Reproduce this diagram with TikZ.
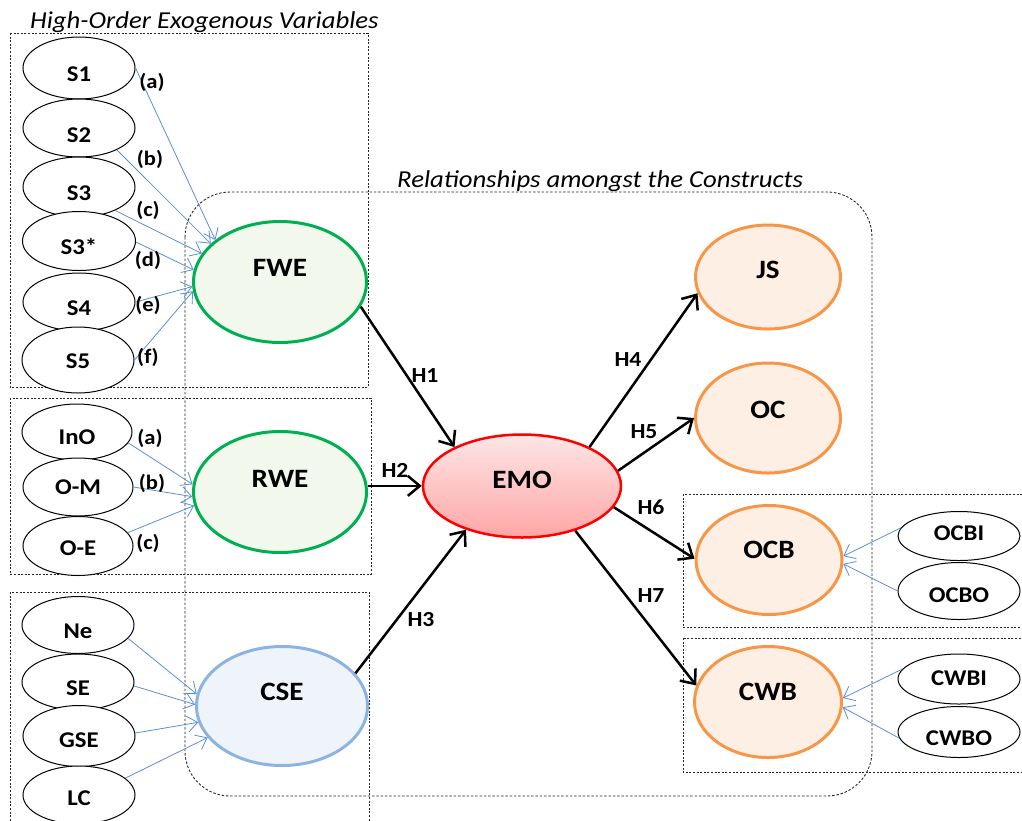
\documentclass[tikz,border=0pt]{standalone}
\usepackage{fontspec}
\setmainfont{Carlito}[FakeStretch=1.1]
\usetikzlibrary{shapes.geometric,arrows.meta}
\definecolor{grn}{HTML}{00B050}
\definecolor{grnfill}{HTML}{F2F8EC}
\definecolor{csel}{HTML}{8DB3E2}
\definecolor{csefill}{HTML}{EFF4FB}
\definecolor{org}{HTML}{F79646}
\definecolor{orgfill}{HTML}{FDEFE4}
\definecolor{emored}{HTML}{FF0000}
\definecolor{emotop}{HTML}{FDE6E6}
\definecolor{emobot}{HTML}{FFA6A6}
\definecolor{thinblue}{HTML}{5B8FD4}
% raise a label inside its ellipse without changing the node's box
\newcommand{\lift}[2]{\raisebox{#1pt}[\height][\depth]{#2}}

\begin{document}
\begin{tikzpicture}[x=1pt,y=-1pt,
  sz/.style 2 args={minimum width=#1pt, minimum height=#2pt},
  ind/.style={ellipse, draw=black, line width=1pt, fill=white, inner sep=0pt,
    font=\fontsize{22.5}{26}\selectfont\bfseries},
  big/.style={ellipse, line width=3pt, inner sep=0pt,
    font=\fontsize{26.5}{31}\selectfont\bfseries},
  wgreen/.style={big, draw=grn, fill=grnfill},
  wblue/.style={big, draw=csel, fill=csefill},
  worange/.style={big, draw=org, fill=orgfill},
  emostyle/.style={big, draw=emored, line width=2.5pt, top color=emotop, bottom color=emobot},
  tag/.style={font=\fontsize{20.5}{24}\selectfont\bfseries, inner sep=0pt},
  hyp/.style={font=\fontsize{21.5}{25}\selectfont\bfseries, inner sep=0pt},
  title/.style={font=\fontsize{24.3}{28}\selectfont\itshape, inner sep=0pt},
  dbox/.style={draw=black!85, line width=0.9pt, dash pattern=on 2pt off 1.6pt},
  rbox/.style={draw=black!85, line width=0.9pt, dash pattern=on 2.5pt off 1.8pt, rounded corners=45pt},
  ba/.style={draw=thinblue, line width=0.8pt, -{Straight Barb[length=10pt,width=16pt,line width=0.8pt]}},
  ha/.style={draw=black, line width=2.5pt, -{Straight Barb[length=12pt,width=20pt]}}
]
\path[use as bounding box, clip] (0,0) rectangle (1022,820);

% group frames
\draw[dbox] (10,33) rectangle (368,387);
\draw[dbox] (10,398) rectangle (371,574);
\draw[dbox] (10,592) rectangle (369,840);
\draw[dbox] (683,494) rectangle (1040,627);
\draw[dbox] (683,638) rectangle (1040,772);
\draw[rbox] (185,192) rectangle (872,796);

% titles
\node[title, anchor=base west] (t1) at (30,28) {High-Order Exogenous Variables};
\node[title, anchor=base west] (t2) at (397,187) {Relationships amongst the Constructs};

% indicators of FWE
\node[ind, sz={112}{62}] (S1) at (79,68) {\lift{-6}{S1}};
\node[ind, sz={112}{58}] (S2) at (79,128) {\lift{-7}{S2}};
\node[ind, sz={112}{60}] (S3) at (79,187) {\lift{-6}{S3}};
\node[ind, sz={113}{59}] (S3s) at (79,241) {\lift{-6}{S3*}};
\node[ind, sz={112}{58}] (S4) at (79,302) {\lift{-6}{S4}};
\node[ind, sz={112}{66}] (S5) at (78,360) {\lift{-1}{S5}};

% indicators of RWE
\node[ind, sz={110}{56}] (InO) at (77,432) {\lift{-5}{InO}};
\node[ind, sz={110}{58}] (OM) at (78,487) {O-M};
\node[ind, sz={110}{59}] (OE) at (78,546) {\lift{-2}{O-E}};

% indicators of CSE
\node[ind, sz={112}{57}] (Ne) at (78,625) {\lift{-6}{Ne}};
\node[ind, sz={112}{56}] (SE) at (78,682) {\lift{-6}{SE}};
\node[ind, sz={112}{61}] (GSE) at (79,736) {\lift{-4}{GSE}};
\node[ind, sz={112}{58}] (LC) at (79,795) {\lift{-3}{LC}};

% indicators of OCB and CWB
\node[ind, sz={122}{49}] (OCBI) at (959,536) {\lift{3}{OCBI}};
\node[ind, sz={122}{57}] (OCBO) at (959,591) {\lift{-4}{OCBO}};
\node[ind, sz={122}{50}] (CWBI) at (959,679) {\lift{1}{CWBI}};
\node[ind, sz={122}{51}] (CWBO) at (959,732) {\lift{-6}{CWBO}};

% constructs
\node[wgreen, sz={173}{121}] (FWE) at (280,282) {\lift{14}{FWE}};
\node[wgreen, sz={173}{121}] (RWE) at (280,492) {\lift{13}{RWE}};
\node[wblue, sz={171}{119}] (CSE) at (282,706) {\lift{14}{CSE}};
\node[emostyle, sz={198}{103}] (EMO) at (522,486) {\lift{6}{EMO}};
\node[worange, sz={145}{104}] (JS) at (768,277) {\lift{7}{JS}};
\node[worange, sz={145}{110}] (OC) at (768,418) {\lift{8}{OC}};
\node[worange, sz={146}{109}] (OCB) at (769,560) {\lift{10}{OCB}};
\node[worange, sz={147}{111}] (CWB) at (768,702) {\lift{10}{CWB}};

% indicator paths
\draw[ba] (S1.0) -- (FWE.147);
\draw[ba] (S2.-30) -- (FWE.151);
\draw[ba] (S3.-33) -- (FWE.160);
\draw[ba] (S3s.-1) -- (FWE.172);
\draw[ba] (S4.0) -- (FWE.183);
\draw[ba] (S5.0) -- (FWE.186);
\draw[ba] (InO.-12) -- (RWE.175);
\draw[ba] (OM.0) -- (RWE.183);
\draw[ba] (OE.15) -- (RWE.189);
\draw[ba] (Ne.-15) -- (CSE.172);
\draw[ba] (SE.-4) -- (CSE.179);
\draw[ba] (GSE.3) -- (CSE.191);
\draw[ba] (LC.20) -- (CSE.203);
\draw[ba] (OCBI.172) -- (OCB.3);
\draw[ba] (OCBO.180) -- (OCB.-3);
\draw[ba] (CWBI.170) -- (CWB.3);
\draw[ba] (CWBO.186) -- (CWB.-4);

\node[tag] (la1) at (152,82) {(a)};
\node[tag] (lb1) at (150,159) {(b)};
\node[tag] (lc1) at (148,210) {(c)};
\node[tag] (ld1) at (148,260) {(d)};
\node[tag] (le1) at (148,305) {(e)};
\node[tag] (lf1) at (148,357) {(f)};
\node[tag] (la2) at (150,438) {(a)};
\node[tag] (lb2) at (152,483) {(b)};
\node[tag] (lc2) at (148,543) {(c)};

% hypothesised paths
\draw[ha] (FWE.-17) -- (EMO.150);
\draw[ha] (RWE.4) -- (RWE.4 -| EMO.west);
\draw[ha] (CSE.24) -- (EMO.218);
\draw[ha] (EMO.30) -- (JS.193);
\draw[ha] (EMO.9) -- (OC.180);
\draw[ha] (EMO.-13) -- (OCB.179);
\draw[ha] (EMO.-40) -- (CWB.167);

\node[hyp] (H1) at (425,376) {H1};
\node[hyp] (H2) at (395,470) {H2};
\node[hyp] (H3) at (421,620) {H3};
\node[hyp] (H4) at (628,360) {H4};
\node[hyp] (H5) at (644,432) {H5};
\node[hyp] (H6) at (651,507) {H6};
\node[hyp] (H7) at (651,596) {H7};
\end{tikzpicture}
\end{document}
